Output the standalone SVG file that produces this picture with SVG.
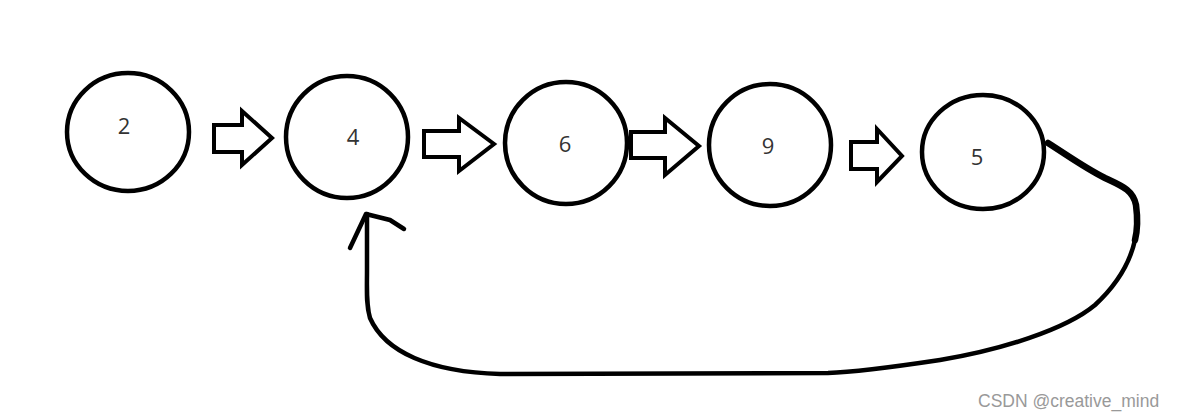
<svg xmlns="http://www.w3.org/2000/svg" width="1177" height="419" viewBox="0 0 1177 419">
<style>
.node{fill:#fff;stroke:#000;stroke-width:4.5}
.lbl{font-family:"Open Sans","Noto Sans",sans-serif;font-size:22px;fill:#333;text-anchor:middle}
.blk{fill:#fff;stroke:#000;stroke-width:4;stroke-linejoin:miter}
.loop{fill:none;stroke:#000;stroke-width:4.5;stroke-linecap:round;stroke-linejoin:round}
.thick{stroke-width:6.5}
.wm{font-family:"Liberation Sans",Arial,sans-serif;font-size:17.5px;fill:#999}
</style>
<rect width="1177" height="419" fill="#fff"/>
<g id="n2"><ellipse class="node" cx="128" cy="132" rx="61" ry="59"/><text class="lbl" x="124" y="134">2</text></g>
<g id="n4"><ellipse class="node" cx="347" cy="137" rx="61" ry="61"/><text class="lbl" x="353" y="145">4</text></g>
<g id="n6"><ellipse class="node" cx="566" cy="143" rx="61" ry="61"/><text class="lbl" x="565" y="152">6</text></g>
<g id="n9"><ellipse class="node" cx="770" cy="145" rx="61" ry="61"/><text class="lbl" x="768" y="154">9</text></g>
<g id="n5"><ellipse class="node" cx="983" cy="152" rx="61" ry="57"/><text class="lbl" x="977" y="165">5</text></g>
<g id="connectors">
<polygon class="blk" points="214,125 242,125 242,111 272,138 242,165 242,152 214,152"/>
<polygon class="blk" points="424,131 459,131 459,118 494,144 459,171 459,157 424,157"/>
<polygon class="blk" points="631,132 665,132 665,118 699,146 665,175 665,158 631,158"/>
<polygon class="blk" points="851,142 877,142 877,129 902,156 877,182 877,169 851,169"/>
<path class="loop thick" d="M1048,143 C1070,157 1085,168 1105,178 C1122,186 1133,190 1136,205 C1138,220 1137,232 1135,240"/>
<path class="loop" d="M1135,240 C1131,258 1122,280 1095,305 C1065,330 1000,350 940,360 C900,366 860,372 828,373 L500,374 C430,372 385,352 370,318 C366,305 367,290 367,270 L367,214"/>
<path class="loop" d="M350,248 L366,214 L390,220 L404,229"/>
</g>
<text class="wm" x="978" y="407">CSDN @creative_mind</text>
</svg>
